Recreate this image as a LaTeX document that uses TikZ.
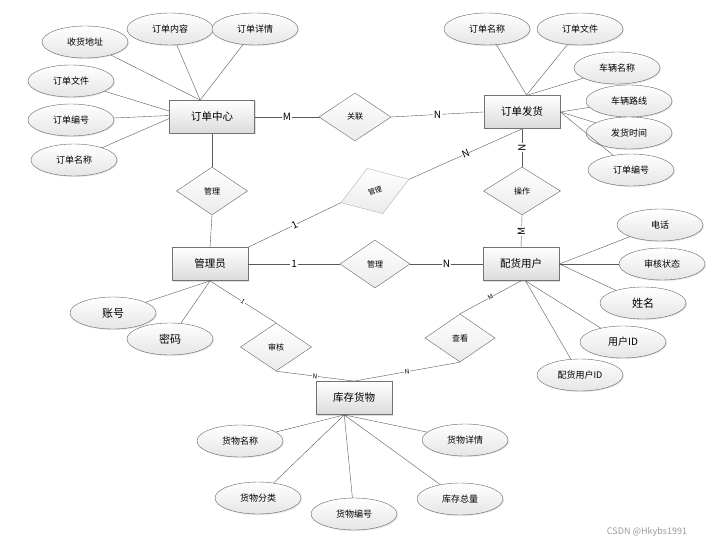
\documentclass[tikz,border=0pt]{standalone}
\usepackage{fontspec}
\setmainfont{Noto Sans CJK SC}
\usepackage{tikz}
\usetikzlibrary{shapes,calc,shadows}
\usetikzlibrary{positioning}
\tikzset{
  entity/.style={draw=black!55,thick,top color=white,bottom color=black!14,minimum width=76pt,minimum height=33pt,inner sep=0pt,font=\fontsize{10.5}{12}\selectfont,drop shadow={opacity=0.25,shadow xshift=1pt,shadow yshift=-1pt}},
  attr/.style={ellipse,draw=black!60,top color=white,bottom color=black!10,minimum width=86pt,minimum height=32pt,inner sep=0pt,font=\fontsize{9}{10}\selectfont,drop shadow={opacity=0.2,shadow xshift=1pt,shadow yshift=-1pt}},
  rel/.style={diamond,draw=black!60,top color=white,bottom color=black!8,minimum width=72pt,minimum height=48pt,inner sep=0pt,font=\fontsize{8}{9}\selectfont},
  lnk/.style={draw=black!65},
  card/.style={fill=white,inner sep=1pt,font=\fontsize{10}{11}\selectfont},
  cardsm/.style={fill=white,inner sep=0.5pt,font=\fontsize{6.5}{7}\selectfont}
}
\begin{document}
\begin{tikzpicture}[x=1pt,y=-1pt]
\useasboundingbox (0,0) rectangle (719,545);
\node[entity,minimum width=85pt] (ddzx) at (212,117) {订单中心};
\node[entity] (ddfh) at (522,112) {订单发货};
\node[entity] (gly) at (210,264) {管理员};
\node[entity] (phyh) at (521,264) {配货用户};
\node[entity] (kchw) at (354,398) {库存货物};
\node[rel] (gl) at (355,117) {关联};
\node[rel,minimum width=71pt] (gl1) at (212,191) {管理};
\node[rel,minimum width=77pt] (cz) at (522,191) {操作};
\node[rel,minimum width=70pt] (gl3) at (375,264) {管理};
\node[rel,minimum width=71pt] (shh) at (276,347) {审核};
\node[rel,minimum width=70pt] (ck) at (460,338) {查看};
\node[rel,draw=black!30,rotate=19,font=\fontsize{7}{8}\selectfont] (gl2) at (375,191) {管理};
\node[attr] (shdz) at (85,42) {收货地址};
\node[attr] (ddnr) at (170,29) {订单内容};
\node[attr] (ddxq) at (255,29) {订单详情};
\node[attr] (ddwj) at (71,81) {订单文件};
\node[attr] (ddbh) at (71,120) {订单编号};
\node[attr] (ddmc) at (74,160) {订单名称};
\node[attr] (ddmc2) at (487,29) {订单名称};
\node[attr] (ddwj2) at (580,29) {订单文件};
\node[attr] (clmc) at (617,68) {车辆名称};
\node[attr] (cllx) at (629,101) {车辆路线};
\node[attr] (fhsj) at (629,133) {发货时间};
\node[attr] (ddbh2) at (631,170) {订单编号};
\node[attr] (dh) at (660,225) {电话};
\node[attr] (shzt) at (662,264) {审核状态};
\node[attr,font=\fontsize{11}{12}\selectfont] (xm) at (643,303) {姓名};
\node[attr,font=\fontsize{10}{11}\selectfont] (yhid) at (623,342) {用户ID};
\node[attr] (phyhid) at (580,375) {配货用户ID};
\node[attr,font=\fontsize{11}{12}\selectfont] (zh) at (113,313) {账号};
\node[attr,font=\fontsize{11}{12}\selectfont] (mm) at (170,339) {密码};
\node[attr] (hwmc) at (240,441) {货物名称};
\node[attr] (hwxq) at (465,440) {货物详情};
\node[attr] (hwfl) at (258,498) {货物分类};
\node[attr] (hwbh) at (354,514) {货物编号};
\node[attr] (kczl) at (460,499) {库存总量};
\draw[lnk] (shdz) to (ddzx.125);
\draw[lnk] (ddnr) to (ddzx.125);
\draw[lnk] (ddxq) to (ddzx.125);
\draw[lnk] (ddwj) to (ddzx.172);
\draw[lnk] (ddbh) to (ddzx.178);
\draw[lnk] (ddmc) to (ddzx.182);
\draw[lnk] (ddmc2) to (ddfh.75);
\draw[lnk] (ddwj2) to (ddfh.75);
\draw[lnk] (clmc) to (ddfh.72);
\draw[lnk] (cllx) to (ddfh.east);
\draw[lnk] (fhsj) to (ddfh.east);
\draw[lnk] (ddbh2) to (ddfh.east);
\draw[lnk] (dh) to (phyh.east);
\draw[lnk] (shzt) to (phyh.east);
\draw[lnk] (xm) to (phyh.east);
\draw[lnk] (yhid) to (phyh.-75);
\draw[lnk] (phyhid) to (phyh.-75);
\draw[lnk] (zh) to (gly.south);
\draw[lnk] (mm) to (gly.south);
\draw[lnk] (hwmc) to (kchw.240);
\draw[lnk] (hwxq) to (kchw.240);
\draw[lnk] (hwfl) to (kchw.240);
\draw[lnk] (hwbh) to (kchw.240);
\draw[lnk] (kczl) to (kchw.240);
\draw[lnk] (ddzx.east) to node[card] {M} (gl.west);
\draw[lnk] (gl.east) to node[card] {N} (ddfh.west);
\draw[lnk] (ddzx.south) to (gl1.north);
\draw[lnk] (gl1.south) to (gly.north);
\draw[lnk] (ddfh.south) to node[card,rotate=90] {N} (cz.north);
\draw[lnk] (cz.south) to node[card,rotate=90] {M} (phyh.north);
\draw[lnk] (gly.north east) to node[card,sloped,inner sep=0pt] {1} (gl2.west);
\draw[lnk] (gl2.east) to node[card,sloped,inner sep=0pt] {N} (ddfh.south);
\draw[lnk] (gly.east) to node[card] {1} (gl3.west);
\draw[lnk] (gl3.east) to node[card] {N} (phyh.west);
\draw[lnk] (gly.south) to node[cardsm,sloped] {1} (shh.north);
\draw[lnk] (shh.south) to node[cardsm,sloped] {N} (kchw.north);
\draw[lnk] (phyh.south) to node[cardsm,sloped] {M} (ck.north);
\draw[lnk] (ck.south) to node[cardsm,sloped] {N} (kchw.north);
\node[text=black!40,font=\fontsize{9}{10}\selectfont] (wm) at (647,532) {CSDN @Hkybs1991};
\end{tikzpicture}
\end{document}
